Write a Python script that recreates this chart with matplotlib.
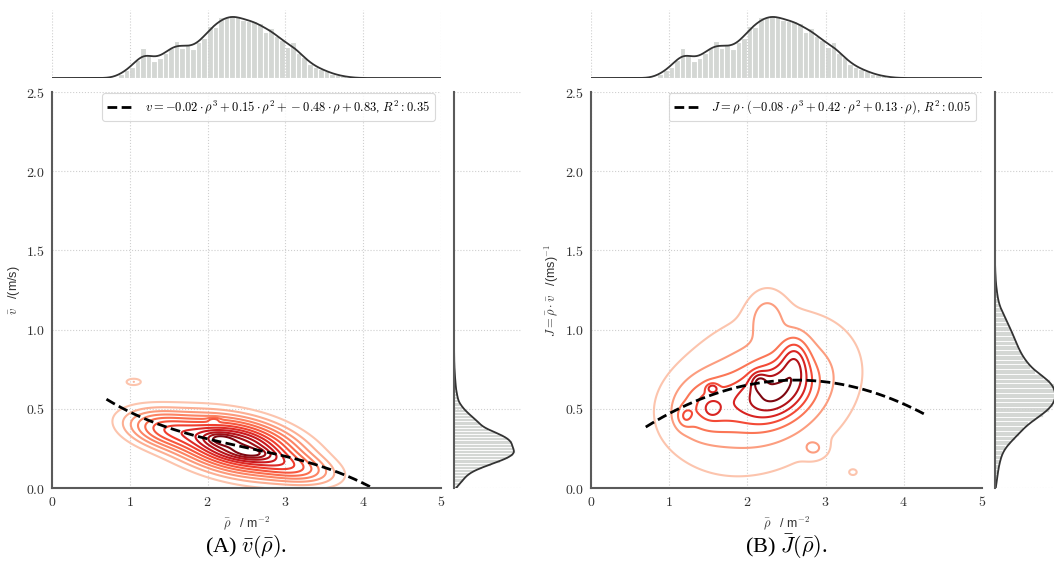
import numpy as np
import matplotlib.pyplot as plt
from matplotlib.ticker import FuncFormatter

plt.rcParams['mathtext.fontset'] = 'cm'
plt.rcParams['font.family'] = ['Liberation Sans', 'DejaVu Sans']

# mean density histogram (shared by both panels)
rho_start = 0.85
rho_width = 0.0714
rho_hist = [13, 23, 33, 53, 90, 68, 51, 60, 75, 90, 110, 90, 98, 86, 106, 118,
            156, 153, 180, 180, 188, 185, 173, 170, 170, 163, 138, 150, 126,
            113, 93, 108, 73, 63, 43, 33, 28, 20, 13, 8, 5, 3]

# mean speed histogram
v_width = 0.02
v_hist = [0.06, 0.10, 0.14, 0.19, 0.24, 0.33, 0.46, 0.60, 0.75, 0.88, 0.97,
          1.00, 0.96, 0.95, 0.94, 0.89, 0.80, 0.68, 0.55, 0.45, 0.41, 0.36,
          0.29, 0.24, 0.18, 0.14, 0.10, 0.07, 0.06, 0.05, 0.04, 0.03, 0.03,
          0.02, 0.02, 0.015, 0.01, 0.01, 0.005, 0.005, 0.003, 0.003, 0.002]

# flow histogram
j_width = 0.03
j_hist = [0.02, 0.03, 0.04, 0.05, 0.06, 0.08, 0.10, 0.12, 0.17, 0.24, 0.32,
          0.40, 0.46, 0.54, 0.66, 0.78, 0.88, 0.95, 0.99, 1.00, 0.98, 0.96,
          0.90, 0.78, 0.66, 0.58, 0.52, 0.46, 0.42, 0.38, 0.35, 0.32, 0.29,
          0.25, 0.21, 0.18, 0.14, 0.10, 0.07, 0.05, 0.04, 0.03, 0.02, 0.01,
          0.01, 0.005]

# fitted coefficients
v_coef = [-0.02, 0.15, -0.48, 0.83]
v_r2 = 0.35
j_coef = [-0.08, 0.42, 0.13]
j_r2 = 0.05
fit_range = (0.7, 4.3)

# bivariate density components: centre x, centre y, spread x, spread y, corr, weight
a_mx = [2.30, 2.40, 2.15, 2.58, 1.45, 3.10, 1.05, 2.08]
a_my = [0.27, 0.27, 0.31, 0.22, 0.37, 0.13, 0.67, 0.43]
a_sx = [0.55, 0.42, 0.12, 0.16, 0.30, 0.30, 0.07, 0.05]
a_sy = [0.11, 0.10, 0.026, 0.024, 0.07, 0.06, 0.015, 0.010]
a_r = [-0.55, -0.3, -0.2, -0.2, -0.3, -0.4, 0.0, 0.0]
a_w = [1.0, 1.2, 0.03, 0.035, 0.30, 0.20, 0.004, 0.003]

b_mx = [2.20, 2.35, 2.60, 2.15, 1.50, 2.25, 1.55, 1.55, 1.20, 2.85, 3.35]
b_my = [0.60, 0.60, 0.80, 0.67, 0.52, 1.08, 0.63, 0.50, 0.45, 0.25, 0.10]
b_sx = [0.65, 0.30, 0.12, 0.07, 0.28, 0.15, 0.05, 0.06, 0.07, 0.10, 0.04]
b_sy = [0.27, 0.12, 0.10, 0.04, 0.12, 0.10, 0.02, 0.03, 0.045, 0.04, 0.015]
b_r = [0.25, 0.3, 0.0, 0.0, 0.1, 0.0, 0.0, 0.0, 0.0, 0.0, 0.0]
b_w = [1.0, 0.5, 0.10, 0.02, 0.22, 0.05, 0.006, 0.008, 0.012, 0.010, 0.001]


def mixture(xx, yy, mx, my, sx, sy, r, w):
    z = np.zeros_like(xx)
    for i in range(len(w)):
        dx = (xx - mx[i]) / sx[i]
        dy = (yy - my[i]) / sy[i]
        q = (dx ** 2 - 2 * r[i] * dx * dy + dy ** 2) / (1 - r[i] ** 2)
        z += w[i] * np.exp(-0.5 * q) / (sx[i] * sy[i] * np.sqrt(1 - r[i] ** 2))
    return z


def smooth(grid, centres, heights, bw):
    d = np.zeros_like(grid)
    for c, h in zip(centres, heights):
        d += h * np.exp(-0.5 * ((grid - c) / bw) ** 2)
    return d / np.trapezoid(d, grid)


def tick_fmt(fmt):
    return FuncFormatter(lambda val, pos: '$' + fmt.format(val) + '$')


bar_color = '#d4d7d4'
line_color = '#333333'
spine_color = '#5a5a5a'
grid_kw = dict(color='#cfcfcf', linestyle=':', linewidth=0.8)

fig = plt.figure(figsize=(10.54, 5.63), dpi=100)

xx, yy = np.meshgrid(np.linspace(0, 5, 500), np.linspace(0, 2.5, 400))
rho_edges = rho_start + rho_width * np.arange(len(rho_hist) + 1)
rho_centres = rho_edges[:-1] + rho_width / 2
rho_dens = np.array(rho_hist) / (sum(rho_hist) * rho_width)
rho_grid = np.linspace(0, 5, 400)
rho_kde = smooth(rho_grid, rho_centres, rho_hist, 0.1)

panels = [
    dict(left=52, mix=(a_mx, a_my, a_sx, a_sy, a_r, a_w), hist=v_hist, width=v_width,
         bw=0.018, ylabel=r'$\bar{v}$   /(m/s)',
         caption=r'(A) $\bar{v}(\bar{\rho})$.',
         levels=[0.03, 0.07, 0.12, 0.18, 0.25, 0.33, 0.42, 0.51, 0.60, 0.70, 0.80, 0.90]),
    dict(left=591, mix=(b_mx, b_my, b_sx, b_sy, b_r, b_w), hist=j_hist, width=j_width,
         bw=0.035, ylabel=r'$J = \bar{\rho}\cdot\bar{v}$   /(ms)$^{-1}$',
         caption=r'(B) $\bar{J}(\bar{\rho})$.',
         levels=[0.04, 0.13, 0.25, 0.38, 0.52, 0.68, 0.86]),
]

W, H = 1054, 563
for k, p in enumerate(panels):
    left = p['left'] / W
    width = (389 if k == 0 else 391) / W
    ax = fig.add_axes([left, 75 / H, width, 396 / H])
    ax_top = fig.add_axes([left, 485 / H, width, 68 / H], sharex=ax)
    ax_right = fig.add_axes([left + width + 13 / W, 75 / H, 68 / W, 396 / H], sharey=ax)

    # bivariate density contours
    zz = mixture(xx, yy, *p['mix'])
    levels = np.array(p['levels']) * zz.max()
    colors = plt.cm.Reds(np.linspace(0.22, 0.95, len(levels)))
    ax.contour(xx, yy, zz, levels=levels, colors=colors, linewidths=1.5)

    # polynomial fit
    rho = np.linspace(*fit_range, 200)
    if k == 0:
        fit = np.polyval(v_coef, rho)
        label = (r'$v = -0.02 \cdot \rho^3 + 0.15 \cdot \rho^2 + -0.48 \cdot \rho'
                 r' + 0.83$, $R^2: %.2f$' % v_r2)
    else:
        fit = np.polyval(j_coef, rho)
        label = (r'$J = \rho \cdot (-0.08 \cdot \rho^3 + 0.42 \cdot \rho^2'
                 r' + 0.13 \cdot \rho)$, $R^2: %.2f$' % j_r2)
    ax.plot(rho, fit, color='black', linestyle=(0, (3.5, 1.6)), linewidth=2, label=label)
    leg = ax.legend(loc='upper right', fontsize=9, frameon=True, fancybox=True,
                    handlelength=2.2, borderpad=0.4, bbox_to_anchor=(1.0, 1.012))
    leg.get_frame().set_edgecolor('#d0d0d0')
    leg.get_frame().set_linewidth(0.8)

    ax.set_xlim(0, 5)
    ax.set_ylim(0, 2.5)
    ax.set_xticks(range(6))
    ax.set_yticks([0, 0.5, 1.0, 1.5, 2.0, 2.5])
    ax.xaxis.set_major_formatter(tick_fmt('{:g}'))
    ax.yaxis.set_major_formatter(tick_fmt('{:.1f}'))
    ax.tick_params(length=0, labelsize=10, colors='#333333', pad=5)
    ax.grid(True, **grid_kw)
    ax.set_axisbelow(True)
    ax.set_xlabel(r'$\bar{\rho}$   / m$^{-2}$', fontsize=9, color='#333333', labelpad=4)
    ax.set_ylabel(p['ylabel'], fontsize=9, color='#333333', labelpad=3)
    for s in ['top', 'right']:
        ax.spines[s].set_visible(False)
    for s in ['left', 'bottom']:
        ax.spines[s].set_color(spine_color)
        ax.spines[s].set_linewidth(1.5)

    # marginal of the mean density
    ax_top.bar(rho_centres, rho_dens, width=rho_width, color=bar_color,
               edgecolor='white', linewidth=0.8)
    ax_top.plot(rho_grid, rho_kde, color=line_color, linewidth=1.3)
    ax_top.set_ylim(0, rho_dens.max() / 0.93)
    ax_top.grid(True, axis='x', **grid_kw)
    ax_top.grid(False, axis='y')
    ax_top.tick_params(labelbottom=False, labelleft=False, length=0)
    for s in ['top', 'right', 'left', 'bottom']:
        ax_top.spines[s].set_visible(False)

    # marginal of the y quantity
    h = np.array(p['hist'])
    edges = p['width'] * np.arange(len(h) + 1)
    centres = edges[:-1] + p['width'] / 2
    dens = h / (h.sum() * p['width'])
    grid = np.linspace(0, 2.5, 500)
    kde = smooth(grid, centres, h, p['bw'])
    ax_right.barh(centres, dens, height=p['width'], color=bar_color,
                  edgecolor='white', linewidth=0.6)
    ax_right.plot(kde, grid, color=line_color, linewidth=1.3)
    ax_right.set_xlim(0, max(dens.max(), kde.max()) / 0.9)
    ax_right.grid(True, axis='y', **grid_kw)
    ax_right.grid(False, axis='x')
    ax_right.tick_params(labelbottom=False, labelleft=False, length=0)
    for s in ['top', 'right', 'bottom']:
        ax_right.spines[s].set_visible(False)
    ax_right.spines['left'].set_color(spine_color)
    ax_right.spines['left'].set_linewidth(1.5)

    fig.text(left + width / 2, 16 / H, p['caption'], ha='center', va='center',
             fontsize=16, family='Liberation Serif')

fig.savefig('out.png', dpi=100)
